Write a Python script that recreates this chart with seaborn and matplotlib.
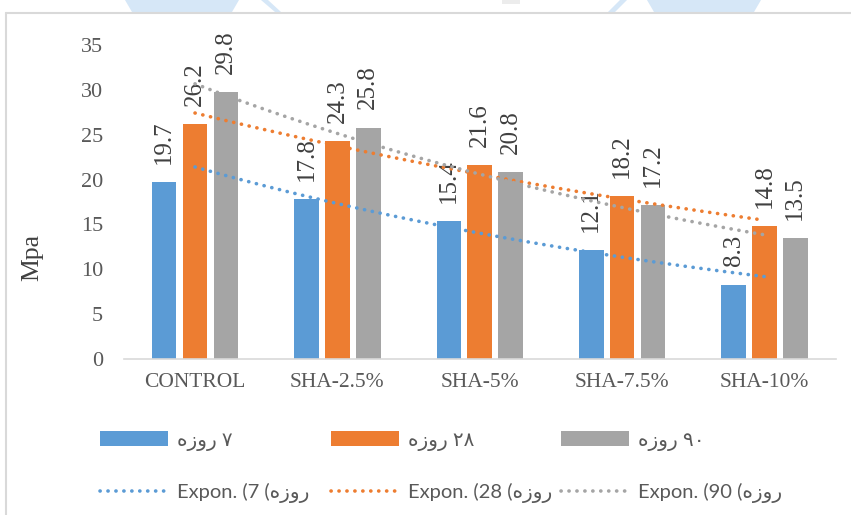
import numpy as np
import pandas as pd
import matplotlib
matplotlib.use("Agg")
import matplotlib.pyplot as plt
import seaborn as sns
from matplotlib.patches import Patch, Polygon
from matplotlib.lines import Line2D

# ---- data -------------------------------------------------------------
categories = ["CONTROL", "SHA-2.5%", "SHA-5%", "SHA-7.5%", "SHA-10%"]
day7 = [19.7, 17.8, 15.4, 12.1, 8.3]
day28 = [26.2, 24.3, 21.6, 18.2, 14.8]
day90 = [29.8, 25.8, 20.8, 17.2, 13.5]
age_labels = ["۷ روزه", "۲۸ روزه", "۹۰ روزه"]
age_days = ["7", "28", "90"]
y_ticks = [0, 5, 10, 15, 20, 25, 30, 35]
y_label = "Mpa"

colors = ["#5B9BD5", "#ED7D31", "#A5A5A5"]
series = [day7, day28, day90]

MIRROR = str.maketrans("()", ")(")


def rtl_visual(text):
    """Lay out a right-to-left string in visual (left-to-right) order."""
    out = []
    for tok in reversed(text.split(" ")):
        if any("\u0621" <= ch <= "\u064a" for ch in tok):
            tok = tok[::-1].translate(MIRROR)
        out.append(tok)
    return " ".join(out)


df = pd.DataFrame({
    "mix": categories * 3,
    "age": np.repeat(age_labels, len(categories)),
    "mpa": day7 + day28 + day90,
})

sns.set_style("white")
plt.rcParams["font.family"] = ["Liberation Serif", "DejaVu Serif"]

W, H = 851, 515
fig = plt.figure(figsize=(W / 100, H / 100), dpi=100)
ax = fig.add_axes([0.1455, 0.3029, 0.8365, 0.6097])

sns.barplot(data=df, x="mix", y="mpa", hue="age", order=categories,
            hue_order=age_labels, palette=colors, width=0.65, gap=0.2,
            saturation=1, errorbar=None, legend=False, linewidth=0, ax=ax)

# value labels above each bar
for cont in ax.containers:
    ax.bar_label(cont, fmt="%.1f", rotation=90, padding=13,
                 fontsize=18, color="#404040",
                 family=["Liberation Serif", "DejaVu Serif"])

# exponential trend lines fitted to each age series
xs = np.linspace(0, len(categories) - 1, 200)
x_idx = np.arange(len(categories))
dots = (0, (0.05, 2.15))
for vals, col in zip(series, colors):
    b, ln_a = np.polyfit(x_idx, np.log(vals), 1)
    ax.plot(xs, np.exp(ln_a + b * xs), color=col, lw=2.6,
            linestyle=dots, dash_capstyle="round", zorder=5)

ax.set_xlim(-0.5, len(categories) - 0.5)
ax.set_ylim(0, 35)
ax.set_yticks(y_ticks)
ax.set_xlabel("")
ax.set_ylabel(y_label, fontsize=18.5, color="#404040",
              family=["Liberation Serif", "DejaVu Serif"])
ax.yaxis.set_label_coords(-0.113, 0.325)
for s in ["left", "top", "right"]:
    ax.spines[s].set_visible(False)
ax.spines["bottom"].set_color("#d9d9d9")
ax.spines["bottom"].set_linewidth(1.2)
ax.tick_params(axis="y", length=0, pad=15, labelsize=16, labelcolor="#595959")
ax.tick_params(axis="x", length=0, pad=10, labelsize=15.5, labelcolor="#595959")

# legend: one column per age, bar on top and its trend line below
col_x = [100, 331, 561]
for lab, day, col, x0 in zip(age_labels, age_days, colors, col_x):
    handles = [
        Patch(facecolor=col, edgecolor="none"),
        Line2D([], [], color=col, lw=2.6, linestyle=dots,
               dash_capstyle="round"),
    ]
    labels = [rtl_visual(lab), f"Expon. ({day} " + rtl_visual("روزه)")]
    fig.legend(handles, labels, ncol=1, loc="upper left",
               bbox_to_anchor=(x0 / W, 1 - 431 / H), frameon=False,
               handlelength=3.4, handleheight=0.8, handletextpad=0.4,
               labelspacing=1.6, borderpad=0, borderaxespad=0,
               prop={"family": ["Lato", "DejaVu Sans"], "size": 14.5},
               labelcolor="#595959")

# frame around the chart
fig.add_artist(Line2D([6 / W, 6 / W], [0, 1 - 13 / H],
                      transform=fig.transFigure, color="#d9d9d9", lw=1.5))
fig.add_artist(Line2D([6 / W, 1], [1 - 13 / H, 1 - 13 / H],
                      transform=fig.transFigure, color="#d9d9d9", lw=1.5))

# pale header shapes along the top edge
shapes = [
    ([(125, 0), (239, 0), (232, 12), (132, 12)], "#d6e7f7"),
    ([(261, 0), (268, 0), (281, 12), (275, 12)], "#d6e7f7"),
    ([(502, 0), (520, 0), (520, 4), (502, 4)], "#ececec"),
    ([(620, 0), (627, 0), (615, 12), (608, 12)], "#d6e7f7"),
    ([(647, 0), (761, 0), (754, 12), (654, 12)], "#d6e7f7"),
]
for pts, col in shapes:
    fig.add_artist(Polygon([(x / W, 1 - y / H) for x, y in pts], closed=True,
                           transform=fig.transFigure, facecolor=col,
                           edgecolor="none"))

fig.savefig("out.png", dpi=100)
